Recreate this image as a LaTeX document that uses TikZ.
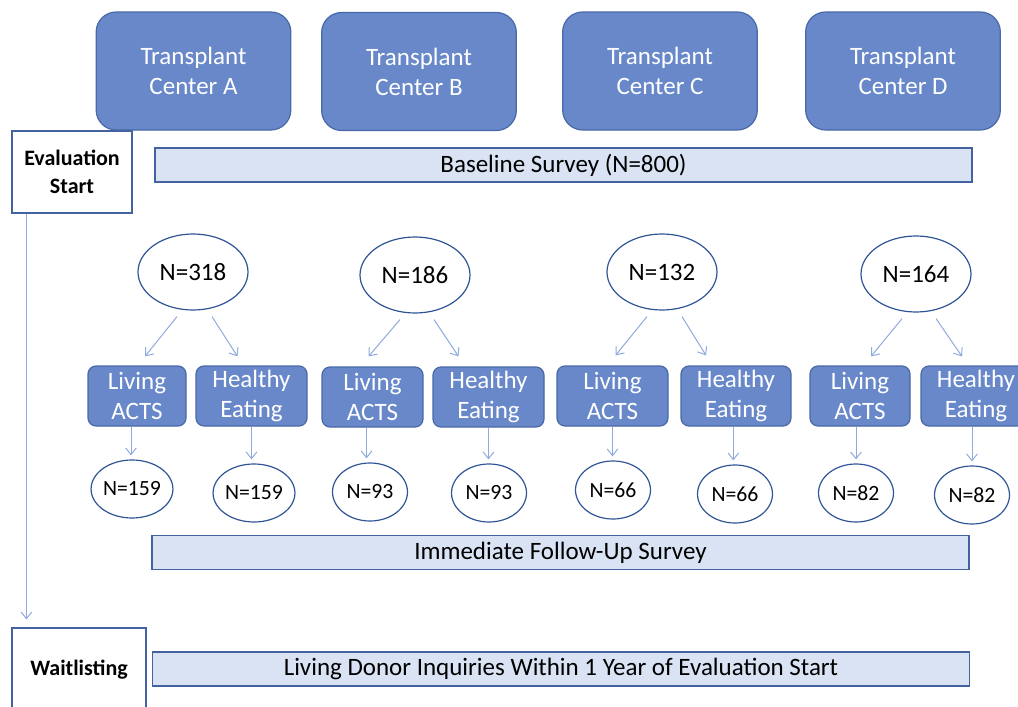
\documentclass[tikz,border=0pt]{standalone}
\usepackage{fontspec}
\setmainfont{Carlito}
\usepackage{xcolor}
\usetikzlibrary{shapes.geometric,arrows.meta}

\definecolor{boxblue}{RGB}{104,136,201}
\definecolor{boxedge}{RGB}{72,104,168}
\definecolor{barfill}{RGB}{218,227,243}
\definecolor{baredge}{RGB}{66,98,160}
\definecolor{flowblue}{RGB}{143,170,220}
\definecolor{ovaledge}{RGB}{47,85,151}

\tikzset{
	centerbox/.style={draw=boxedge, fill=boxblue, rounded corners=15pt, line width=0.9pt,
		minimum width=146pt, minimum height=88.5pt, align=center, text=white,
		font=\fontsize{18.75}{22.5}\selectfont},
	armbox/.style={draw=boxedge, fill=boxblue, rounded corners=6pt, line width=0.9pt,
		minimum height=45pt, align=center, text=white, inner sep=0pt,
		font=\fontsize{18.75}{22.5}\selectfont},
	stagebox/.style={draw=baredge, fill=white, line width=0.8pt, align=center,
		font=\fontsize{16.5}{21}\selectfont\bfseries},
	surveybar/.style={draw=baredge, fill=barfill, line width=0.9pt,
		minimum width=612.75pt, minimum height=25.5pt, inner sep=0pt,
		font=\fontsize{18.75}{22.5}\selectfont},
	bigoval/.style={ellipse, draw=ovaledge, fill=white, line width=0.9pt,
		minimum width=82.5pt, minimum height=57pt, inner sep=0pt,
		font=\fontsize{18.75}{22.5}\selectfont},
	smalloval/.style={ellipse, draw=ovaledge, fill=white, line width=0.9pt,
		minimum width=56.25pt, minimum height=43.5pt, inner sep=0pt,
		font=\fontsize{16.3}{20}\selectfont},
	flow/.style={draw=flowblue, line width=0.75pt, -{Straight Barb[length=5pt, width=8pt]}}
}

\begin{document}
\begin{tikzpicture}[x=0.75pt, y=-0.75pt]
	\useasboundingbox (0,0) rectangle (1018,707);

	\node[centerbox] (centerA) at (193.5,71) {Transplant\\Center A};
	\node[centerbox] (centerB) at (419,71.5) {Transplant\\Center B};
	\node[centerbox] (centerC) at (660,71) {Transplant\\Center C};
	\node[centerbox] (centerD) at (903,71) {Transplant\\Center D};

	\node[stagebox, minimum width=90pt, minimum height=61.5pt] (evalstart) at (72,172) {Evaluation\\Start};
	\node[stagebox, minimum width=100.5pt, minimum height=63pt] (waitlist) at (79,670) {Waitlisting};

	\node[surveybar] (baseline) at (563.5,165) {Baseline Survey (N=800)};
	\node[surveybar] (followup) at (560.5,552.5) {Immediate Follow-Up Survey};
	\node[surveybar] (inquiries) at (561,669) {Living Donor Inquiries Within 1 Year of Evaluation Start};

		\node[bigoval] (n318) at (193,272) {N=318};
		\node[bigoval] (n186) at (415,275) {N=186};
		\node[bigoval] (n132) at (662,272) {N=132};
		\node[bigoval] (n164) at (916,274) {N=164};

	\node[armbox, minimum width=73.5pt] (live1) at (137,396) {Living\\ACTS};
	\node[armbox, minimum width=83.25pt] (eat1) at (251.5,396) {Healthy\\Eating};
	\node[armbox, minimum width=75.75pt] (live2) at (372.5,397) {Living\\ACTS};
	\node[armbox, minimum width=83.25pt] (eat2) at (488.5,397) {Healthy\\Eating};
	\node[armbox, minimum width=83.25pt] (live3) at (612.5,396) {Living\\ACTS};
	\node[armbox, minimum width=82.5pt] (eat3) at (736,396) {Healthy\\Eating};
	\node[armbox, minimum width=75pt] (live4) at (860,396) {Living\\ACTS};
	\node[armbox, minimum width=82.5pt] (eat4) at (976,396) {Healthy\\Eating};

		\node[smalloval] (n159a) at (132,489) {N=159};
		\node[smalloval] (n159b) at (254,493) {N=159};
		\node[smalloval] (n93a) at (370,492) {N=93};
		\node[smalloval] (n93b) at (489,493) {N=93};
		\node[smalloval] (n66a) at (613,490) {N=66};
		\node[smalloval] (n66b) at (735,494) {N=66};
		\node[smalloval] (n82a) at (856,493) {N=82};
		\node[smalloval] (n82b) at (972,495) {N=82};

	\draw[flow] ([shift={(-16,6)}]n318.south) -- ([shift={(8,-9)}]live1.north);
	\draw[flow] ([shift={(19,6)}]n318.south) -- ([shift={(-14,-9)}]eat1.north);
	\draw[flow] ([shift={(-15,6)}]n186.south) -- ([shift={(-4,-10)}]live2.north);
	\draw[flow] ([shift={(19,6)}]n186.south) -- ([shift={(-30,-10)}]eat2.north);
	\draw[flow] ([shift={(-15,6)}]n132.south) -- ([shift={(3,-10)}]live3.north);
	\draw[flow] ([shift={(20,6)}]n132.south) -- ([shift={(-30,-10)}]eat3.north);
	\draw[flow] ([shift={(-14,6)}]n164.south) -- ([shift={(11,-9)}]live4.north);
	\draw[flow] ([shift={(20,6)}]n164.south) -- ([shift={(-14,-9)}]eat4.north);

		\draw[flow, shorten >=3pt] ([xshift=-4.5pt]live1.south) -- ([xshift=-4.5pt]live1.south |- n159a.north);
		\draw[flow, shorten >=3pt] (eat1.south) -- (eat1.south |- n159b.north);
		\draw[flow, shorten >=3pt] ([xshift=-4.5pt]live2.south) -- ([xshift=-4.5pt]live2.south |- n93a.north);
		\draw[flow, shorten >=3pt] (eat2.south) -- (eat2.south |- n93b.north);
		\draw[flow, shorten >=3pt] (live3.south) -- (live3.south |- n66a.north);
		\draw[flow, shorten >=3pt] ([xshift=-2pt]eat3.south) -- ([xshift=-2pt]eat3.south |- n66b.north);
		\draw[flow, shorten >=3pt] ([xshift=-3pt]live4.south) -- ([xshift=-3pt]live4.south |- n82a.north);
		\draw[flow, shorten >=3pt] ([xshift=-3pt]eat4.south) -- ([xshift=-3pt]eat4.south |- n82b.north);

	\draw[flow, shorten >=6pt] ([xshift=11.25pt]evalstart.south west) -- ([xshift=11.25pt]evalstart.south west |- waitlist.north);
\end{tikzpicture}
\end{document}
